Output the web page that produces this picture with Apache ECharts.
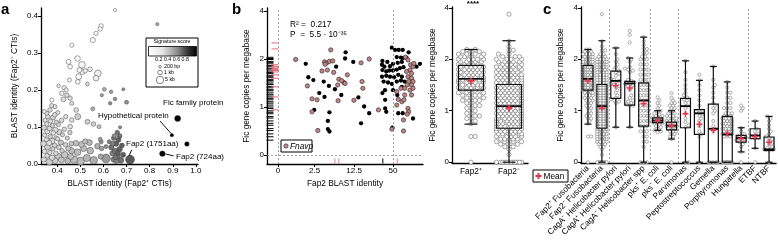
<!DOCTYPE html>
<html>
<head>
<meta charset="utf-8">
<script src="https://cdn.jsdelivr.net/npm/echarts@6/dist/echarts.min.js"></script>
<style>
html, body { margin: 0; padding: 0; background: #fff; }
#chart { width: 778px; height: 244px; }
</style>
</head>
<body>
<div id="chart"></div>
<script>
// ---------- panel a : [identity Fap2+ CTIs, identity Fap2- CTIs, signature score, length kb]
var aUpper = [
  [0.65,0.416,0.1,0.2],[0.833,0.378,0.35,0.2],[0.59,0.373,0.1,0.8],[0.586,0.365,0.1,0.7],
  [0.568,0.353,0.1,0.6],[0.554,0.335,0.1,1.2],[0.463,0.321,0.1,0.6],[0.449,0.276,0.1,1.0],
  [0.488,0.285,0.1,1.5],[0.456,0.263,0.1,0.8],[0.507,0.268,0.12,2.5],[0.496,0.254,0.12,1.0],
  [0.509,0.249,0.12,1.2],[0.521,0.252,0.15,0.7],[0.542,0.256,0.15,0.9],[0.576,0.245,0.15,2.5],
  [0.568,0.232,0.15,1.5],[0.493,0.236,0.12,1.8],[0.489,0.222,0.12,0.9],[0.453,0.227,0.12,0.5],
  [0.377,0.173,0.1,0.5],[0.406,0.211,0.15,0.3],[0.43,0.206,0.15,0.7],[0.439,0.2,0.15,0.6],
  [0.42,0.191,0.15,0.8],[0.442,0.186,0.2,0.7],[0.456,0.178,0.2,0.7],[0.427,0.175,0.2,1.0],
  [0.531,0.216,0.2,0.4],[0.604,0.202,0.35,0.4],[0.633,0.195,0.4,0.3],[0.593,0.186,0.4,0.2],
  [0.65,0.176,0.45,0.3],[0.686,0.202,0.45,0.15],[0.70,0.167,0.45,0.5],[0.629,0.164,0.45,0.3],
  [0.489,0.128,0.25,1.8],[0.531,0.114,0.25,1.0],[0.557,0.108,0.25,0.8],[0.581,0.101,0.3,0.5],
  [0.672,0.099,0.45,0.2],[0.586,0.067,0.4,0.4],[0.672,0.077,0.5,0.3],[0.647,0.076,0.45,0.7],
  [0.456,0.101,0.2,0.9],[0.463,0.119,0.2,0.8],[0.482,0.146,0.2,0.9],[0.463,0.164,0.2,0.5],
  [0.39,0.155,0.2,0.6],[0.355,0.137,0.2,0.6],[0.554,0.149,0.35,0.5],[0.59,0.06,0.45,0.6],
  [0.611,0.047,0.45,0.5]
];
var aLeft = [
  [0.342,0.012,0.22,1.2],[0.345,0.034,0.2,0.8],[0.341,0.055,0.22,1.5],[0.346,0.078,0.2,0.6],
  [0.343,0.098,0.22,1.0],[0.348,0.118,0.2,0.7],[0.344,0.142,0.18,0.5],[0.356,0.022,0.22,0.9],
  [0.358,0.046,0.25,1.8],[0.353,0.066,0.2,0.6],[0.357,0.088,0.22,1.1],[0.355,0.108,0.2,0.7],
  [0.359,0.128,0.22,0.9],[0.366,0.006,0.25,2.2],[0.368,0.031,0.22,0.7],[0.365,0.057,0.2,1.3],
  [0.37,0.074,0.25,0.8],[0.367,0.096,0.22,1.0],[0.371,0.116,0.2,0.6],[0.369,0.146,0.2,0.8],
  [0.378,0.017,0.22,1.4],[0.381,0.041,0.25,0.6],[0.377,0.062,0.22,2.0],[0.383,0.084,0.2,0.9],
  [0.379,0.104,0.25,0.7],[0.382,0.126,0.22,1.1],[0.376,0.158,0.2,0.6],[0.391,0.009,0.25,1.6],
  [0.394,0.029,0.22,0.8],[0.389,0.05,0.25,1.1],[0.395,0.071,0.22,0.6],[0.392,0.092,0.2,1.3],
  [0.396,0.113,0.25,0.7],[0.39,0.133,0.22,0.9],[0.404,0.02,0.28,2.4],[0.407,0.045,0.25,0.9],
  [0.402,0.068,0.22,0.6],[0.409,0.086,0.25,1.4],[0.405,0.107,0.22,0.8],[0.403,0.139,0.2,0.5],
  [0.418,0.011,0.28,1.7],[0.421,0.036,0.25,0.7],[0.416,0.058,0.28,1.2],[0.423,0.079,0.25,0.6],
  [0.419,0.118,0.22,0.8],[0.432,0.025,0.28,2.6],[0.436,0.052,0.25,0.8],[0.431,0.094,0.22,0.7],
  [0.437,0.128,0.2,0.6],[0.445,0.008,0.3,1.5],[0.448,0.042,0.28,1.1],[0.444,0.07,0.25,0.6],
  [0.458,0.02,0.3,2.0],[0.461,0.055,0.28,0.9],[0.455,0.085,0.25,0.7]
];
var aMid = [
  [0.472,0.012,0.3,3.5],[0.488,0.032,0.3,2.5],[0.501,0.008,0.32,4.0],[0.514,0.042,0.3,2.0],
  [0.528,0.016,0.33,3.0],[0.543,0.036,0.32,2.5],[0.558,0.01,0.35,3.5],[0.574,0.048,0.35,1.5],
  [0.481,0.056,0.3,1.5],[0.521,0.061,0.3,1.2],[0.505,0.053,0.3,1.8],[0.462,0.036,0.3,2.0],
  [0.539,0.058,0.33,1.8],[0.588,0.02,0.38,1.2],[0.592,0.042,0.4,0.8],[0.611,0.015,0.42,5.0],
  [0.64,0.029,0.5,1.5]
];
var aRight = [
  [0.625,0.06,0.5,0.6],[0.634,0.045,0.55,1.2],[0.645,0.07,0.55,1.0],[0.65,0.035,0.55,1.5],
  [0.655,0.055,0.6,1.2],[0.66,0.02,0.55,1.5],[0.665,0.065,0.6,1.0],[0.67,0.04,0.6,1.3],
  [0.675,0.01,0.55,1.8],[0.68,0.05,0.6,1.0],[0.66,0.085,0.55,0.8],[0.645,0.012,0.5,1.5],
  [0.685,0.025,0.6,1.2],[0.655,0.008,0.5,1.2],[0.67,0.075,0.6,0.7],[0.64,0.055,0.5,0.9],
  [0.663,0.03,0.6,1.0],[0.652,0.018,0.55,1.1]
];
// Fap2 (1751aa), Fic family x2, hypothetical protein, Fap2 (724aa)
var aNamed = [[0.715,0.012,0.62,5.0],[0.921,0.123,0.95,1.8],[0.896,0.078,0.95,0.25],[0.961,0.054,0.95,0.8],[0.855,0.028,0.92,1.4]];
var aTicksX = [0.4,0.5,0.6,0.7,0.8,0.9,1.0];

// ---------- panel b left : [Fap2 BLAST identity, Fic copies per Mb]
var bBlack = [
  [1.58,1.90],[9.1,2.28],[8.9,2.02],[6.3,1.84],[1.82,1.62],[2.35,1.56],[3.77,1.53],[4.7,1.44],
  [6.0,1.37],[3.1,1.29],[3.9,1.21],[7.7,1.25],[14.6,1.20],[12.1,1.94],[2.45,0.94],[4.8,0.89],
  [4.5,0.71],[18.0,1.01],[21.6,0.87],[16.1,0.66],[4.5,0.54],[4.8,0.49],
  [48,2.47],[53.6,2.38],[61,2.38],[70,2.38],[57,2.08],[66,2.06],[70,2.04],[34.5,1.96],[41,1.94],
  [34,1.88],[37,1.84],[45,1.85],[50,1.90],[59,1.92],[68,1.94],[34.5,1.77],[39.5,1.74],[44,1.76],
  [50,1.76],[57,1.78],[63.7,1.81],[72,1.83],[34,1.63],[39.5,1.65],[45,1.63],[52,1.62],[60,1.67],
  [68,1.63],[36,1.53],[42,1.51],[48,1.48],[57,1.53],[66,1.55],[75,1.53],[34.5,1.29],[37.8,1.35],
  [50,1.35],[58,1.25],[68,1.42],[38,0.97],[39.5,0.90],[60,0.87],[70,0.87],[100,0.76],[127,1.90],
  [113,1.84],[86,2.28],[80,2.05],[49,0.57],[38,1.15]
];
var bPink = [
  [0.83,1.99],[5.07,2.38],[3.9,1.94],[4.3,1.92],[4.8,1.95],[4.0,1.89],[5.5,1.96],[3.5,1.75],
  [4.4,1.77],[5.7,1.72],[1.73,1.44],[7.0,1.58],[8.5,1.51],[8.9,1.49],[7.8,1.55],[9.7,1.67],
  [6.7,1.46],[2.2,1.17],[2.8,1.15],[6.8,1.13],[12.4,1.14],[16.1,1.92],[21.6,2.0],[16.7,1.53],
  [17.2,1.39],[2.2,0.90],[2.9,0.51],
  [77,2.08],[84,1.98],[92,1.88],[100,1.84],[90,1.77],[80,1.74],[95,1.70],[84,1.63],[95,1.60],
  [86,1.53],[100,1.53],[82,1.46],[95,1.46],[75,1.39],[90,1.35],[100,1.39],[66,1.39],[60,1.16],
  [68,1.11],[73,1.15],[57,1.04],[84,0.97],[86,0.90],[82,0.85],[72,0.73],[48,0.54],[72,0.50],
  [30,0.94],[57,1.32],[75,1.25],[95,1.25],[103,1.91]
];
var rugBlack = [2.07,2.02,1.99,1.95,1.93,1.9,1.86,1.85,1.81,1.79,1.75,1.72,1.7,1.66,1.63,1.61,1.57,
  1.55,1.52,1.48,1.47,1.43,1.4,1.36,1.35,1.31,1.27,1.25,1.21,1.18,1.15,1.11,1.08,1.04,1.0,0.97,
  0.92,0.89,0.86,0.8,0.77,0.71,0.66,0.62,0.55,0.51,0.44,0.38,0.31];
var rugRed = [2.67,2.42,1.88,1.85,1.83,1.8,1.78,1.76,1.73,1.67,1.6,1.42,1.21,0.94];
var rugBottomBlack = [35];
var rugBottomRed = [6.0,7.0,58];
var bIdentTicks = [0,2.5,12.5,50];
var ficTicks = [0,1,2,4];

// ---------- panel b right / c : Fic gene copies per megabase
var fap2PosBins = [[2.38,2],[2.3,3],[2.2,4],[2.1,4],[2.0,5],[1.95,5],[1.9,5],[1.85,6],[1.8,6],[1.75,6],
  [1.7,6],[1.65,6],[1.6,6],[1.55,5],[1.5,5],[1.45,5],[1.4,4],[1.35,4],[1.3,3],[1.25,3],[1.2,3],
  [1.15,2],[1.1,2],[1.05,2],[1.0,1],[0.95,2],[0.9,2],[0.85,2],[0.8,1],[0.75,1],[0.5,2],[0,1]];
var fap2NegBins = [[3.75,1],[2.7,1],[2.5,1],[2.35,2],[2.2,2],[2.1,3],[2.0,4],[1.95,5],[1.9,5],[1.85,6],
  [1.8,6],[1.75,6],[1.7,7],[1.65,7],[1.6,7],[1.55,7],[1.5,7],[1.45,7],[1.4,7],[1.35,7],[1.3,7],
  [1.25,7],[1.2,7],[1.15,7],[1.1,7],[1.05,7],[1.0,7],[0.95,7],[0.9,7],[0.85,7],[0.8,7],[0.75,7],
  [0.7,7],[0.65,7],[0.6,6],[0.55,6],[0.5,5],[0.45,5],[0.4,4],[0.35,3],[0.3,2],[0.25,1],[0.15,1],[0,12]];
var hpNegVals = [2.44,2.2,2.0,1.95,1.9,1.85,1.8,1.78,1.75,1.72,1.68,1.62,1.6,1.58,1.55,1.52,1.5,1.48,
  1.45,1.4,1.35,1.3,1.25,1.22,1.2,1.18,1.15,0.68];
var hpPosVals = [3.1,2.95,2.65,2.05,2.0,1.95,1.85,1.82,1.8,1.78,1.75,1.6,1.58,1.56,1.55,1.54,1.52,1.5,
  1.48,1.45,1.4,1.3,1.25,1.2,1.18,1.15,1.12,1.1,1.1,0.68];
var hsppBins = [[2.86,1],[2.7,1],[2.55,1],[2.4,2],[2.25,2],[2.1,2],[2.0,3],[1.9,3],[1.8,4],[1.7,4],
  [1.6,4],[1.5,4],[1.4,4],[1.3,4],[1.2,4],[1.1,4],[1.0,4],[0.9,4],[0.8,4],[0.7,3],[0.6,3],[0.5,2],
  [0.4,2],[0.3,1],[0,3]];
var pksPosVals = [1.26,1.2,1.15,1.1,1.05,1.0,0.98,0.95,0.93,0.9,0.9,0.88,0.87,0.86,0.85,0.85,0.84,0.83,
  0.83,0.82,0.82,0.81,0.8,0.8,0.79,0.78,0.78,0.77,0.76,0.75,0.73,0.7,0.68,0.65,0.62,0.6,0.58];
var pksNegBins = [[1.34,1],[1.25,1],[1.2,1],[1.15,2],[1.1,2],[1.05,2],[1.0,2],[0.95,3],[0.9,3],[0.85,4],
  [0.8,4],[0.75,5],[0.7,5],[0.65,4],[0.6,3],[0.55,2],[0.5,2],[0.45,1],[0,1]];
var parviVals = [1.97,1.75,1.6,1.5,1.42,1.35,1.3,1.26,1.22,1.2,1.15,1.1,1.05,0.95,0.85,0.78,0.72,0.68,0,0];
var peptoVals = [1.7,1.59,1.5,1.4,1.3,1.2,1.1,1.0,0.98,0.96,0.93,0.9,0.85,0.8,0.7,0.6,0.55,0.5,0];
var gemellaVals = [1.86,1.6,1.5,1.45,1.35,1.25,1.15,1.1,1.05,1.0,0.95,0.8,0.7,0.65,0.6,0,0,0,0,0];
var porphBins = [[1.56,1],[1.45,1],[1.35,2],[1.25,2],[1.15,2],[1.05,3],[0.95,3],[0.9,3],[0.85,4],[0.8,4],
  [0.75,4],[0.7,4],[0.65,4],[0.6,4],[0.55,4],[0.5,3],[0,8]];
var hungVals = [1.1,1.05,1.0,0.67,0.6,0.55,0.52,0.5,0.48,0.47,0.46,0.45,0.43,0.4,0.39,0.35,0.3,0.2,0];
var etbfVals = [0.8,0.65,0.6,0.55,0.52,0.5,0.48,0.46,0.27,0];
var ntbfVals = [0.89,0.85,0.8,0.72,0.65,0.6,0.55,0.5,0.48,0.45,0.42,0.38,0.35,0.3,0.28,0.26,0.25,0.25,
  0.24,0.24,0.23,0];
var cLabels = ['Fap2\u207a Fusobacteria','Fap2\u207b Fusobacteria','CagA\u207b Helicobacter pylori',
  'CagA\u207a Helicobacter pylori','CagA\u207b Helicobacter spp','pks\u207a E. coli','pks\u207b E. coli',
  'Parvimonas','Peptostreptococcus','Gemella','Porphyromonas','Hungatella','ETBF','NTBF'];
// [min, Q1, median, Q3, max]
var cBoxStats = [[0.74,1.40,1.62,1.88,2.38],[0,0.66,1.09,1.51,2.72],[0.68,1.24,1.58,1.77,2.44],
  [0.68,1.11,1.53,1.57,2.05],[0,0.70,1.2,1.54,2.86],[0.62,0.77,0.81,0.86,1.0],[0.45,0.63,0.71,0.78,1.0],
  [0,0.67,1.09,1.24,1.97],[0,0.54,0.95,1.02,1.59],[0,0,0.65,1.13,1.86],[0,0,0.54,0.89,1.56],
  [0.2,0.39,0.47,0.52,0.67],[0.27,0.46,0.52,0.65,0.8],[0,0.23,0.25,0.49,0.89]];
var cMeans = [1.58,1.05,1.49,1.44,1.14,0.81,0.71,0.94,0.74,0.62,0.56,0.46,0.5,0.39];
var cSeparators = [1.5,4.5,6.5,11.5];

var FONT = 'Liberation Sans, Arial, sans-serif';
var PLUS = 'path://M3,0H5V3H8V5H5V8H3V5H0V3H3Z';

// Fic axis: linear 0-2, then 2-4 squeezed into one unit
function brk(v) { return v <= 2 ? v : 2 + (v - 2) / 2; }
function unbrk(d) { return d <= 2 ? d : 2 + (d - 2) * 2; }
function lid(v) { return Math.log(1 + v); }
function expand(bins) {
  var out = [];
  bins.forEach(function (b) { for (var i = 0; i < b[1]; i++) out.push(b[0]); });
  return out;
}
function shade(s) {
  var g = Math.round(255 * (1 - Math.min(1, Math.max(0, (s - 0.1) / 0.8))));
  return 'rgb(' + g + ',' + g + ',' + g + ')';
}
// simple beeswarm: horizontal offsets only, values untouched
function swarm(values, idx, pxX, pxY, d, maxOff) {
  var placed = [], out = [];
  values.map(brk).sort(function (a, b) { return a - b; }).forEach(function (y) {
    var py = y * pxY, best = 0, bestScore = -1;
    for (var k = 0; k <= 40; k++) {
      var off = (k % 2 ? 1 : -1) * Math.ceil(k / 2) * d * 0.5;
      if (Math.abs(off) > maxOff) continue;
      var minD = Infinity;
      for (var j = 0; j < placed.length; j++) {
        var dy = placed[j][1] - py;
        if (Math.abs(dy) > d) continue;
        var dd = Math.sqrt((placed[j][0] - off) * (placed[j][0] - off) + dy * dy);
        if (dd < minD) minD = dd;
      }
      if (minD >= d * 0.85) { best = off; break; }
      if (minD > bestScore) { bestScore = minD; best = off; }
    }
    placed.push([best, py]);
    out.push([idx + best / pxX, y]);
  });
  return out;
}
function boxSeries(xi, yi, stats, halfW, capHalf, medW) {
  return {
    type: 'custom', xAxisIndex: xi, yAxisIndex: yi, z: 5, silent: true,
    data: stats.map(function (s, i) { return [i, brk(s[0]), brk(s[1]), brk(s[2]), brk(s[3]), brk(s[4])]; }),
    encode: { x: 0, y: [1, 2, 3, 4, 5] },
    renderItem: function (params, api) {
      var x = api.value(0);
      var lo = api.coord([x, api.value(1)]), q1 = api.coord([x, api.value(2)]);
      var md = api.coord([x, api.value(3)]), q3 = api.coord([x, api.value(4)]);
      var hi = api.coord([x, api.value(5)]);
      var cx = lo[0];
      var st = { stroke: '#111', lineWidth: 1.2, fill: 'rgba(0,0,0,0)' };
      return { type: 'group', children: [
        { type: 'line', shape: { x1: cx, y1: hi[1], x2: cx, y2: q3[1] }, style: st },
        { type: 'line', shape: { x1: cx, y1: q1[1], x2: cx, y2: lo[1] }, style: st },
        { type: 'line', shape: { x1: cx - capHalf, y1: hi[1], x2: cx + capHalf, y2: hi[1] }, style: st },
        { type: 'line', shape: { x1: cx - capHalf, y1: lo[1], x2: cx + capHalf, y2: lo[1] }, style: st },
        { type: 'rect', shape: { x: cx - halfW, y: q3[1], width: 2 * halfW, height: q1[1] - q3[1] }, style: st },
        { type: 'line', shape: { x1: cx - halfW, y1: md[1], x2: cx + halfW, y2: md[1] }, style: { stroke: '#000', lineWidth: medW } }
      ] };
    }
  };
}
function valAxis(o) {
  var ax = {
    type: 'value', gridIndex: o.grid, min: o.min, max: o.max,
    axisLine: { show: true, onZero: false, lineStyle: { color: '#000', width: 1.3 } },
    axisTick: { show: true, length: 3, lineStyle: { color: '#000', width: 1 }, customValues: o.ticks },
    axisLabel: { color: '#000', fontSize: 8, fontFamily: FONT, margin: 3, customValues: o.ticks, formatter: o.fmt },
    splitLine: { show: false },
    name: o.name, nameLocation: 'middle', nameGap: o.gap,
    nameTextStyle: { fontSize: 8.3, fontFamily: FONT, color: '#000' }
  };
  return ax;
}
var ficFmt = function (v) { return String(unbrk(v)); };

var aAll = aUpper.concat(aLeft, aMid, aRight).slice().sort(function (p, q) { return q[3] - p[3]; });
var aSize = function (v) { return 1.8 + 3.1 * Math.sqrt(v[3]); };

var bRData = [swarm(expand(fap2PosBins), 0, 38, 51.5, 4.2, 13), swarm(expand(fap2NegBins), 1, 38, 51.5, 4.2, 13)];
var cValues = [expand(fap2PosBins), expand(fap2NegBins), hpNegVals, hpPosVals, expand(hsppBins), pksPosVals,
  expand(pksNegBins), parviVals, peptoVals, gemellaVals, expand(porphBins), hungVals, etbfVals, ntbfVals];
var cData = [];
cValues.forEach(function (vals, i) { cData = cData.concat(swarm(vals, i, 13.93, 51.5, 3.2, 6)); });

var dashed = { type: [2, 2], color: '#8a8a8a', width: 0.8 };
function txt(x, y, s, size, extra) {
  var st = { text: s, x: x, y: y, fontSize: size, fontFamily: FONT, fill: '#000', textVerticalAlign: 'middle' };
  for (var k in extra) st[k] = extra[k];
  return { type: 'text', style: st, z: 20 };
}

var chart = echarts.init(document.getElementById('chart'), null, { renderer: 'canvas' });
chart.setOption({
  animation: false,
  backgroundColor: '#fff',
  grid: [
    { left: 41, top: 8, width: 157, height: 156, outerBoundsMode: 'none' },
    { left: 267, top: 8, width: 156, height: 156, outerBoundsMode: 'none' },
    { left: 452, top: 7, width: 76, height: 156, outerBoundsMode: 'none' },
    { left: 581, top: 7, width: 195, height: 156, outerBoundsMode: 'none' }
  ],
  xAxis: [
    valAxis({ grid: 0, min: 0.33, max: 1.009, ticks: aTicksX, fmt: function (v) { return v.toFixed(1); },
      name: 'BLAST identity (Fap2\u207a CTIs)', gap: 16 }),
    valAxis({ grid: 1, min: -0.376, max: 4.957, ticks: bIdentTicks.map(lid),
      fmt: function (v) { return String(Math.round((Math.exp(v) - 1) * 10) / 10); },
      name: 'Fap2 BLAST identity', gap: 16 }),
    { type: 'category', gridIndex: 2, data: ['Fap2\u207a', 'Fap2\u207b'],
      axisLine: { onZero: false, lineStyle: { color: '#000', width: 1.3 } },
      axisTick: { alignWithLabel: true, length: 3, lineStyle: { color: '#000' } },
      axisLabel: { color: '#000', fontSize: 8.3, fontFamily: FONT, margin: 5 } },
    { type: 'category', gridIndex: 3, data: cLabels,
      axisLine: { onZero: false, lineStyle: { color: '#000', width: 1.3 } },
      axisTick: { alignWithLabel: true, length: 3, lineStyle: { color: '#000' } },
      axisLabel: { color: '#000', fontSize: 8.3, fontFamily: FONT, margin: 4, rotate: 45, interval: 0 } },
    { type: 'value', gridIndex: 3, min: -0.5, max: 13.5, show: false },
    { type: 'value', gridIndex: 2, min: -0.5, max: 1.5, show: false }
  ],
  yAxis: [
    valAxis({ grid: 0, min: 0, max: 0.4216, ticks: [0, 0.1, 0.2, 0.3, 0.4], fmt: function (v) { return v.toFixed(1); },
      name: 'BLAST identity (Fap2\u207b CTIs)', gap: 22 }),
    valAxis({ grid: 1, min: -0.1875, max: 3.0625, ticks: ficTicks.map(brk), fmt: ficFmt,
      name: 'Fic gene copies per megabase', gap: 16 }),
    valAxis({ grid: 2, min: -0.015, max: 3.015, ticks: ficTicks.map(brk), fmt: ficFmt,
      name: 'Fic gene copies per megabase', gap: 15 }),
    valAxis({ grid: 3, min: -0.015, max: 3.015, ticks: ficTicks.map(brk), fmt: ficFmt,
      name: 'Fic gene copies per megabase', gap: 16 })
  ],
  series: [
    { type: 'scatter', xAxisIndex: 0, yAxisIndex: 0, data: aAll, symbolSize: aSize, silent: true,
      itemStyle: { color: function (p) { return shade(p.value[2]); }, borderColor: '#444', borderWidth: 0.5, opacity: 1 } },
    { type: 'scatter', xAxisIndex: 0, yAxisIndex: 0, data: aNamed, symbolSize: aSize, silent: true, clip: false,
      itemStyle: { color: function (p) { return shade(p.value[2]); }, borderColor: '#222', borderWidth: 0.5, opacity: 1 },
      markLine: { silent: true, symbol: ['none', 'none'], label: { show: false },
        lineStyle: { color: '#000', width: 0.9, type: 'solid' },
        data: [
          [{ coord: [1.012, 0.151] }, { coord: [0.925, 0.124] }],
          [{ coord: [1.012, 0.151] }, { coord: [0.963, 0.058] }],
          [{ coord: [0.845, 0.116] }, { coord: [0.893, 0.082] }],
          [{ coord: [0.722, 0.038] }, { coord: [0.711, 0.022] }],
          [{ coord: [0.868, 0.027] }, { coord: [0.904, 0.022] }]
        ] } },
    { type: 'scatter', xAxisIndex: 1, yAxisIndex: 1, silent: true, symbolSize: 4.3,
      data: bBlack.map(function (p) { return [lid(p[0]), brk(p[1])]; }),
      itemStyle: { color: '#000', opacity: 1 },
      markLine: { silent: true, symbol: ['none', 'none'], label: { show: false }, lineStyle: dashed,
        data: [{ xAxis: lid(0) }, { xAxis: lid(50) }, { yAxis: 0 }] } },
    { type: 'scatter', xAxisIndex: 1, yAxisIndex: 1, silent: true, symbolSize: 4.3,
      data: bPink.map(function (p) { return [lid(p[0]), brk(p[1])]; }),
      itemStyle: { color: '#c48484', borderColor: '#222', borderWidth: 0.6, opacity: 1 } },
    { type: 'scatter', xAxisIndex: 1, yAxisIndex: 1, silent: true, symbol: 'rect', symbolSize: [7, 1],
      symbolOffset: [-8, 0], data: rugBlack.map(function (v) { return [0, brk(v)]; }),
      itemStyle: { color: '#000', opacity: 1 } },
    { type: 'scatter', xAxisIndex: 1, yAxisIndex: 1, silent: true, symbol: 'rect', symbolSize: [7, 1],
      symbolOffset: [-3, 0], data: rugRed.map(function (v) { return [0, brk(v)]; }),
      itemStyle: { color: '#e46a78', opacity: 1 } },
    { type: 'scatter', xAxisIndex: 1, yAxisIndex: 1, silent: true, symbol: 'rect', symbolSize: [1, 5],
      symbolOffset: [0, 6], data: rugBottomBlack.map(function (v) { return [lid(v), 0]; }),
      itemStyle: { color: '#000', opacity: 1 } },
    { type: 'scatter', xAxisIndex: 1, yAxisIndex: 1, silent: true, symbol: 'rect', symbolSize: [1, 5],
      symbolOffset: [0, 6], data: rugBottomRed.map(function (v) { return [lid(v), 0]; }),
      itemStyle: { color: '#e07a86', opacity: 1 } },
    { type: 'scatter', xAxisIndex: 5, yAxisIndex: 2, silent: true, symbolSize: 4.2,
      data: bRData[0].concat(bRData[1]),
      itemStyle: { color: '#fff', borderColor: '#6a6a6a', borderWidth: 0.6, opacity: 1 } },
    boxSeries(5, 2, cBoxStats.slice(0, 2), 12.5, 6.5, 1.6),
    { type: 'scatter', xAxisIndex: 5, yAxisIndex: 2, silent: true, symbol: PLUS, symbolSize: 7, z: 6,
      data: cMeans.slice(0, 2).map(function (m, i) { return [i, brk(m)]; }),
      itemStyle: { color: '#e8334c', opacity: 1 } },
    { type: 'scatter', xAxisIndex: 4, yAxisIndex: 3, silent: true, symbolSize: 3.2, data: cData,
      itemStyle: { color: '#fff', borderColor: '#707070', borderWidth: 0.55, opacity: 1 },
      markLine: { silent: true, symbol: ['none', 'none'], label: { show: false }, lineStyle: dashed,
        data: cSeparators.map(function (s) { return { xAxis: s }; }) } },
    boxSeries(4, 3, cBoxStats, 5, 3.5, 1.8),
    { type: 'scatter', xAxisIndex: 4, yAxisIndex: 3, silent: true, symbol: PLUS, symbolSize: 6, z: 6,
      data: cMeans.map(function (m, i) { return [i, brk(m)]; }),
      itemStyle: { color: '#e8334c', opacity: 1 } }
  ],
  graphic: [
    txt(1, 10, 'a', 15, { fontWeight: 'bold' }),
    txt(232, 10, 'b', 15, { fontWeight: 'bold' }),
    txt(543, 10, 'c', 15, { fontWeight: 'bold' }),
    // signature score legend
    { type: 'rect', shape: { x: 146, y: 38, width: 52, height: 49 }, style: { fill: '#fff', stroke: '#000', lineWidth: 1 }, z: 15 },
    txt(172, 42, 'Signature score', 5.3, { textAlign: 'center' }),
    { type: 'rect', shape: { x: 148.5, y: 46.5, width: 48, height: 9.5 }, z: 16,
      style: { stroke: '#000', lineWidth: 0.8, fill: { type: 'linear', x: 0, y: 0, x2: 1, y2: 0,
        colorStops: [{ offset: 0, color: '#fff' }, { offset: 0.3, color: '#e4e4e4' }, { offset: 0.6, color: '#8c8c8c' },
          { offset: 0.8, color: '#3a3a3a' }, { offset: 1, color: '#000' }] } } },
    txt(172, 59.8, '0.2 0.4 0.6 0.8', 5.3, { textAlign: 'center' }),
    { type: 'circle', shape: { cx: 160, cy: 66.7, r: 1.3 }, style: { fill: '#fff', stroke: '#333', lineWidth: 0.6 }, z: 16 },
    { type: 'circle', shape: { cx: 160, cy: 72.5, r: 2.3 }, style: { fill: '#fff', stroke: '#333', lineWidth: 0.6 }, z: 16 },
    { type: 'circle', shape: { cx: 160, cy: 80, r: 3.7 }, style: { fill: '#fff', stroke: '#333', lineWidth: 0.6 }, z: 16 },
    txt(164, 66.7, '200 bp', 5.3), txt(164, 72.5, '1 kb', 5.3), txt(165, 80, '5 kb', 5.3),
    // annotations
    txt(163, 102.5, 'Fic family protein', 8),
    txt(98, 115.5, 'Hypothetical protein', 8),
    txt(126, 143.5, 'Fap2 (1751aa)', 8),
    txt(176, 157, 'Fap2 (724aa)', 8),
    // b left
    txt(290, 25, 'R\u00b2 =  0.217', 8.3),
    txt(290, 35, 'P  =  5.5 \u00b7 10\u207b\u00b3\u2075', 8.3),
    { type: 'rect', shape: { x: 281, y: 140, width: 31, height: 12 }, style: { fill: '#fff', stroke: '#000', lineWidth: 1 }, z: 15 },
    { type: 'circle', shape: { cx: 286, cy: 146, r: 2.2 }, style: { fill: '#c48484', stroke: '#333', lineWidth: 0.6 }, z: 16 },
    txt(290, 146.5, 'Fnavp', 8.3, { fontStyle: 'italic' }),
    // b right
    txt(473, 3.5, '****', 8, { textAlign: 'center', fontWeight: 'bold' }),
    // c legend
    { type: 'rect', shape: { x: 533, y: 170, width: 35, height: 12 }, style: { fill: '#fff', stroke: '#000', lineWidth: 1 }, z: 15 },
    { type: 'polygon', z: 16, shape: { points: [[537.5,173],[539.5,173],[539.5,175],[541.5,175],[541.5,177],[539.5,177],[539.5,179],[537.5,179],[537.5,177],[535.5,177],[535.5,175],[537.5,175]] },
      style: { fill: '#e8334c' } },
    txt(543.5, 176.5, 'Mean', 8.3)
  ]
});
</script>
</body>
</html>
